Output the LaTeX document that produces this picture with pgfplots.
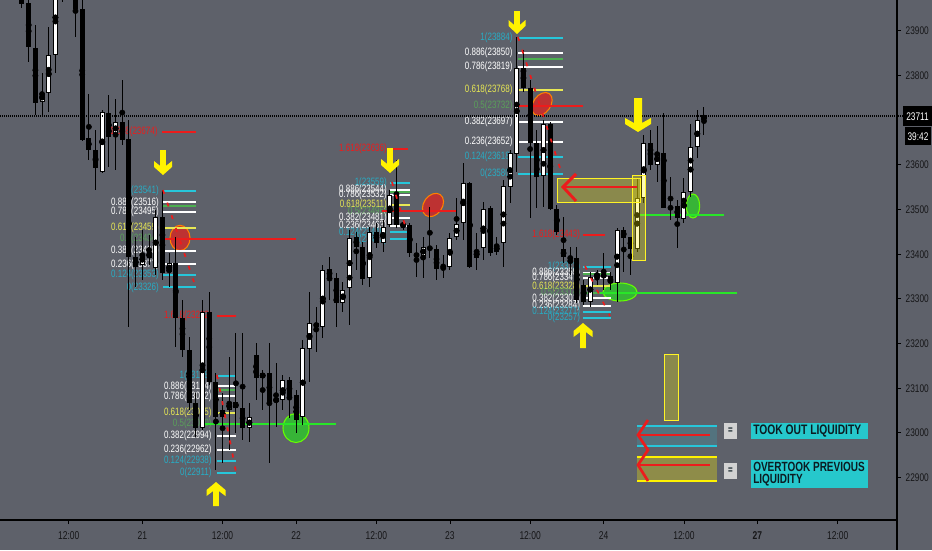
\documentclass[border=0pt]{standalone}
\usepackage{fontspec}
\setmainfont{Liberation Sans}[FakeStretch=0.75]
\usepackage{pgfplots}
\usepackage{pgfplotstable}
\pgfplotsset{compat=1.18}

\definecolor{bg}{RGB}{94,97,106}
\definecolor{tickc}{RGB}{22,22,24}
\definecolor{fibcyan}{RGB}{38,198,218}
\definecolor{fibcyantxt}{RGB}{40,172,196}
\definecolor{fibyel}{RGB}{232,232,84}
\definecolor{fibgrn}{RGB}{76,175,80}
\definecolor{fibgrntxt}{RGB}{90,160,90}
\definecolor{fibred}{RGB}{236,28,28}
\definecolor{limeln}{RGB}{40,230,40}
\definecolor{ylw}{RGB}{255,242,0}
\definecolor{legcyan}{RGB}{38,200,204}
\definecolor{ellred}{RGB}{200,45,45}
\definecolor{ellgrn}{RGB}{55,180,55}
\definecolor{legtxt}{RGB}{12,28,34}

% hourly candles, index i, prices o h l c
\pgfplotstableread{
i o h l c
0 23980 24003 23951 23960
1 23962 23969 23830 23864
2 23861 23913 23711 23738
3 23741 23806 23711 23761
4 23761 23908 23718 23846
5 23846 24036 23806 24014
6 24014 24059 23965 24040
7 24059 24081 24003 24025
8 23991 24003 23886 23949
9 23949 23969 23653 23655
10 23660 23759 23611 23633
11 23633 23678 23544 23593
12 23584 23723 23582 23718
13 23716 23756 23595 23662
14 23667 23747 23588 23696
15 23696 23790 23644 23655
16 23658 23700 23237 23394
17 23394 23438 23326 23371
18 23376 23454 23342 23400
19 23405 23443 23376 23391
20 23369 23499 23353 23483
21 23483 23544 23342 23358
22 23360 23402 23326 23380
23 23380 23438 23192 23257
24 23257 23297 23170 23185
25 23185 23214 23051 23067
26 23067 23089 22991 23011
27 23011 23297 23006 23270
28 23270 23315 23107 23114
29 23114 23134 22917 23035
30 23035 23089 22932 23051
31 23051 23170 22961 23069
32 23069 23223 22999 23055
33 23055 23223 22984 23011
34 23011 23067 22979 23035
35 23174 23201 23073 23123
36 23123 23141 23051 23134
37 23134 23201 22932 23069
38 23069 23156 23013 23078
39 23073 23129 23051 23118
40 23118 23125 23033 23080
41 23085 23096 22999 23029
42 23035 23208 23017 23190
43 23188 23315 23114 23246
44 23246 23282 23181 23237
45 23237 23376 23212 23364
46 23367 23394 23297 23347
47 23347 23358 23237 23291
48 23291 23338 23270 23320
49 23324 23454 23241 23436
50 23438 23449 23364 23416
51 23416 23427 23331 23344
52 23347 23461 23326 23449
53 23449 23470 23414 23425
54 23425 23476 23405 23461
55 23465 23544 23461 23532
56 23532 23611 23458 23465
57 23463 23476 23454 23467
58 23465 23470 23394 23402
59 23402 23425 23349 23394
60 23396 23438 23347 23416
61 23416 23505 23391 23411
62 23411 23420 23342 23367
63 23371 23398 23347 23367
64 23371 23447 23364 23436
65 23438 23526 23432 23467
66 23470 23604 23432 23559
67 23559 23561 23369 23371
68 23391 23447 23364 23409
69 23414 23517 23387 23501
70 23503 23508 23396 23402
71 23405 23438 23398 23420
72 23425 23566 23371 23553
73 23550 23633 23514 23626
74 23624 23886 23584 23817
75 23817 23857 23763 23772
76 23772 23790 23481 23649
77 23649 23678 23503 23573
78 23575 23700 23505 23691
79 23691 23696 23499 23501
80 23501 23510 23443 23449
81 23411 23483 23380 23394
82 23394 23416 23353 23389
83 23391 23416 23291 23297
84 23331 23342 23286 23293
85 23293 23360 23282 23349
86 23351 23364 23331 23355
87 23355 23402 23320 23349
88 23351 23360 23320 23335
89 23335 23458 23293 23454
90 23454 23461 23360 23436
91 23438 23438 23353 23411
92 23411 23570 23405 23526
93 23526 23667 23514 23649
94 23649 23678 23588 23600
95 23600 23687 23561 23626
96 23626 23716 23503 23503
97 23505 23573 23476 23503
98 23508 23521 23414 23481
99 23479 23570 23470 23539
100 23539 23691 23528 23640
101 23640 23723 23615 23700
102 23700 23729 23667 23711
}\candles

\newcommand{\fibf}{\fontsize{8}{8}\selectfont}
% fib level: label end x, line x1, line x2, ratio, price, line colour, text colour
\newcommand{\lev}[7]{%
  \draw[#6, line width=1.5pt] (#2,#5) -- (#3,#5);
  \node[anchor=east, text=#7, font=\fibf, inner sep=0pt] at (#1,#5) {#4(#5)};}
% yellow arrows in pixel coordinates: cx, y1, y2, head half width, shaft half width
\newcommand{\darr}[5]{\fill[ylw] (#1-#5,#2) -- (#1+#5,#2) -- (#1+#5,#3-9) -- (#1+#4,#3-14) -- (#1+#4,#3-8) -- (#1,#3) -- (#1-#4,#3-8) -- (#1-#4,#3-14) -- (#1-#5,#3-9) -- cycle;}
\newcommand{\uarr}[5]{\fill[ylw] (#1-#5,#3) -- (#1+#5,#3) -- (#1+#5,#2+9) -- (#1+#4,#2+14) -- (#1+#4,#2+8) -- (#1,#2) -- (#1-#4,#2+8) -- (#1-#4,#2+14) -- (#1-#5,#2+9) -- cycle;}

\begin{document}
\begin{tikzpicture}
\useasboundingbox (0,0) rectangle (699pt,-412.5pt);
\begin{scope}[x=0.75pt,y=-0.75pt]
  \fill[bg] (0,0) rectangle (932,550);
  % ellipses behind the candles
  \filldraw[fill=ellred, draw=orange, line width=0.8pt, fill opacity=0.9] (180,238) ellipse [x radius=7.5pt, y radius=9.5pt];
  \filldraw[fill=ellred, draw=orange, line width=0.8pt, fill opacity=0.9, rotate around={-35:(433,205)}] (433,205) ellipse [x radius=7pt, y radius=9.5pt];
  \filldraw[fill=ellred, draw=orange, line width=0.8pt, fill opacity=0.9, rotate around={-35:(542,104)}] (542,104) ellipse [x radius=6.5pt, y radius=9.5pt];
  \filldraw[fill=ellgrn, draw=green!60!yellow, line width=0.8pt] (296,428) ellipse [x radius=9.75pt, y radius=10.9pt];
  \filldraw[fill=ellgrn, draw=green!60!yellow, line width=0.8pt] (620,292) ellipse [x radius=12.75pt, y radius=6.75pt];
  \filldraw[fill=ellgrn, draw=green!60!yellow, line width=0.8pt] (693,206) ellipse [x radius=5pt, y radius=9pt];
\end{scope}

\begin{axis}[
  at={(0pt,0pt)}, anchor=north west,
  scale only axis, width=672.75pt, height=390pt,
  xmin=-3.29, xmax=130.87, ymin=22805, ymax=23969,
  axis x line*=bottom, axis y line*=right,
  axis line style={-, black, line width=0.9pt},
  every outer x axis line/.append style={-},
  every outer y axis line/.append style={-},
  xtick={7,18,30,41,53,64,76,87,99,110,122},
  xticklabels={12:00,21,12:00,22,12:00,23,12:00,24,12:00,\textbf{27},12:00},
  ytick={22900,23000,23100,23200,23300,23400,23500,23600,23800,23900},
  scaled y ticks=false,
  tick align=outside, major tick length=3pt,
  tick style={black, line width=0.6pt},
  yticklabel style={font=\fontsize{8.3}{8.3}\selectfont, text=tickc},
  xticklabel style={font=\fontsize{8.5}{8.5}\selectfont, text=tickc, yshift=-2pt},
  /pgf/number format/1000 sep={},
  /pgf/number format/assume math mode=true,
]
% fib block C
\lev{20.5}{21.1}{26.0}{1}{23541}{fibcyan}{fibcyantxt}
\lev{20.5}{21.1}{26.0}{0.886}{23516}{white}{white}
\draw[fibgrn, line width=1.5pt] (21.1,23509) -- (26.0,23509);
\lev{20.5}{21.1}{26.0}{0.786}{23495}{white}{white}
\lev{20.5}{21.1}{26.0}{0.618}{23459}{fibyel}{fibyel}
\lev{20.5}{21.1}{26.0}{0.5}{23434}{fibgrn}{fibgrntxt}
\lev{20.5}{21.1}{26.0}{0.382}{23408}{white}{white}
\lev{20.5}{21.1}{26.0}{0.236}{23377}{white}{white}
\lev{20.5}{21.1}{26.0}{0.124}{23353}{fibcyan}{fibcyantxt}
\lev{20.5}{21.1}{26.0}{0}{23326}{fibcyan}{fibcyantxt}
\lev{20.3}{20.9}{26.0}{1.618}{23674}{fibred}{fibred}
\draw[fibred, line width=1.6pt] (21.4,23434) -- (41.0,23434);
% fib block D
\lev{28.4}{29.2}{32.0}{1}{23128}{fibcyan}{fibcyantxt}
\lev{28.4}{29.2}{32.0}{0.886}{23104}{white}{white}
\draw[fibgrn, line width=1.5pt] (29.2,23095) -- (32.0,23095);
\lev{28.4}{29.2}{32.0}{0.786}{23082}{white}{white}
\lev{28.4}{29.2}{32.0}{0.618}{23045}{fibyel}{fibyel}
\lev{28.4}{29.2}{32.0}{0.5}{23020}{fibgrn}{fibgrntxt}
\lev{28.4}{29.2}{32.0}{0.382}{22994}{white}{white}
\lev{28.4}{29.2}{32.0}{0.236}{22962}{white}{white}
\lev{28.4}{29.2}{32.0}{0.124}{22938}{fibcyan}{fibcyantxt}
\lev{28.4}{29.2}{32.0}{0}{22911}{fibcyan}{fibcyantxt}
\lev{28.4}{29.2}{32.0}{1.618}{23262}{fibred}{fibred}
\draw[limeln, line width=1.5pt] (27.4,23020) -- (47.0,23020);
% fib block B
\lev{54.6}{55.0}{58.0}{1}{23559}{fibcyan}{fibcyantxt}
\lev{54.6}{55.0}{58.0}{0.886}{23544}{white}{white}
\draw[fibgrn, line width=1.5pt] (55.0,23540) -- (58.0,23540);
\lev{54.6}{55.0}{58.0}{0.786}{23532}{white}{white}
\lev{54.6}{55.0}{58.0}{0.618}{23511}{fibyel}{fibyel}
\lev{54.6}{55.0}{58.0}{0.5}{23496}{fibgrn}{fibgrntxt}
\lev{54.6}{55.0}{58.0}{0.382}{23481}{white}{white}
\lev{54.6}{55.0}{58.0}{0.236}{23463}{white}{white}
\lev{54.6}{55.0}{58.0}{0.124}{23449}{fibcyan}{fibcyantxt}
\lev{54.6}{55.0}{58.0}{0}{23433}{fibcyan}{fibcyantxt}
\lev{54.6}{55.0}{57.7}{1.618}{23636}{fibred}{fibred}
\draw[fibred, line width=1.6pt] (53.8,23496) -- (65.1,23496);
% fib block A
\lev{73.4}{74.2}{80.9}{1}{23884}{fibcyan}{fibcyantxt}
\lev{73.4}{74.2}{80.9}{0.886}{23850}{white}{white}
\draw[fibgrn, line width=1.5pt] (74.2,23838) -- (80.9,23838);
\lev{73.4}{74.2}{80.9}{0.786}{23819}{white}{white}
\lev{73.4}{74.2}{80.9}{0.618}{23768}{fibyel}{fibyel}
\lev{73.4}{74.2}{80.9}{0.5}{23732}{fibgrn}{fibgrntxt}
\lev{73.4}{74.2}{80.9}{0.382}{23697}{white}{white}
\lev{73.4}{74.2}{80.9}{0.236}{23652}{white}{white}
\lev{73.4}{74.2}{80.9}{0.124}{23618}{fibcyan}{fibcyantxt}
\lev{73.4}{74.2}{80.9}{0}{23580}{fibcyan}{fibcyantxt}
\draw[fibred, line width=1.6pt] (74.2,23732) -- (83.9,23732);
% fib block E
\lev{83.5}{83.9}{88.1}{1}{23372}{fibcyan}{fibcyantxt}
\lev{83.5}{83.9}{88.1}{0.886}{23359}{white}{white}
\draw[fibgrn, line width=1.5pt] (83.9,23355) -- (88.1,23355);
\lev{83.5}{83.9}{88.1}{0.786}{23347}{white}{white}
\lev{83.5}{83.9}{88.1}{0.618}{23328}{fibyel}{fibyel}
\lev{83.5}{83.9}{88.1}{0.5}{23314}{fibgrn}{fibgrntxt}
\lev{83.5}{83.9}{88.1}{0.382}{23301}{white}{white}
\lev{83.5}{83.9}{88.1}{0.236}{23284}{white}{white}
\lev{83.5}{83.9}{88.1}{0.124}{23271}{fibcyan}{fibcyantxt}
\lev{83.5}{83.9}{88.1}{0}{23257}{fibcyan}{fibcyantxt}
\lev{83.5}{83.9}{87.2}{1.618}{23443}{fibred}{fibred}
\draw[limeln, line width=1.5pt] (86.4,23314) -- (106.9,23314);
\draw[limeln, line width=1.5pt] (92.4,23488) -- (105.0,23488);

% wicks
\addplot[only marks, mark=none,
  error bars/.cd, y dir=both, y explicit, error mark=none,
  error bar style={black, line width=0.75pt}]
  table[x=i, y expr={(\thisrow{h}+\thisrow{l})/2}, y error expr={(\thisrow{h}-\thisrow{l})/2}] {\candles};
% bodies
\addplot[only marks, mark=none,
  error bars/.cd, y dir=both, y explicit, error mark=none,
  error bar style={black, line width=3.75pt}]
  table[x=i, y expr={(\thisrow{o}+\thisrow{c})/2}, y error expr={max(abs(\thisrow{c}-\thisrow{o})/2,1.1)}] {\candles};
% white insides of rising candles
\addplot[only marks, mark=none,
  restrict expr to domain={\thisrow{c}-\thisrow{o}}{0.5:100000},
  error bars/.cd, y dir=both, y explicit, error mark=none,
  error bar style={white, line width=2.25pt}]
  table[x=i, y expr={(\thisrow{o}+\thisrow{c})/2}, y error expr={max(abs(\thisrow{c}-\thisrow{o})/2-2.2,0)}] {\candles};
\end{axis}

\begin{scope}[x=0.75pt,y=-0.75pt]
  % last price line and boxes
  \draw[black, line width=0.8pt, dash pattern=on 0.75pt off 0.75pt] (0,116) -- (903,116);
  \draw[black, line width=0.9pt] (897,518) -- (897,550);
  \fill[black] (903,106) rectangle (932,126);
  \node[text=white, font=\fontsize{8.3}{8.3}\selectfont, inner sep=0pt] at (917.5,116.5) {23711};
  \fill[black] (905,127) rectangle (931,145);
  \node[text=white, font=\fontsize{8.3}{8.3}\selectfont, inner sep=0pt] at (918,136.5) {39:42};
  % liquidity boxes
  \filldraw[fill=ylw, fill opacity=0.28, draw=ylw!85!white, line width=0.75pt] (557,178) rectangle (640,202);
  \filldraw[fill=ylw, fill opacity=0.28, draw=ylw!85!white, line width=0.75pt] (632,175) rectangle (645,260);
  \draw[fibred, line width=2.2pt] (637,187) -- (565,187);
  \draw[fibred, line width=2.2pt] (576,174) -- (563,187) -- (576,201);
  % zigzag dashes
  \begin{scope}[fibred, line width=1.3pt, dash pattern=on 3pt off 7pt]
    \draw (163,190) -- (194,282);
    \draw (217,375) -- (236,472);
    \draw (392,182) -- (407,232);
    \draw (518,37) -- (560,168);
    \draw (585,266) -- (610,316);
  \end{scope}
  % arrows
  \darr{163}{150}{175}{9}{2.8}
  \darr{390}{148}{173}{9}{2.8}
  \darr{517}{11}{34}{8.5}{2.8}
  \darr{638}{98}{132}{13}{4}
  \uarr{216}{482}{506}{9.5}{2.8}
  \uarr{583}{323}{348}{9.5}{2.8}
  % legend
  \filldraw[fill=ylw, fill opacity=0.28, draw=ylw!85!white, line width=0.75pt] (664,354) rectangle (678,420);
  \fill[fibcyan, opacity=0.18] (637,426) rectangle (717,446);
  \draw[fibcyan, line width=1pt] (637,426) -- (717,426) (637,446) -- (717,446);
  \fill[ylw, opacity=0.3] (637,457) rectangle (717,481);
  \draw[ylw, line width=1pt] (637,457) -- (717,457) (637,481) -- (717,481);
  \draw[fibred, line width=2.2pt] (640,435) -- (710,435) (640,465) -- (710,465);
  \draw[fibred, line width=2pt] (648,420) -- (638,435) -- (648,450) -- (638,465) -- (648,481);
  \fill[gray!35] (724,423) rectangle (737,439);
  \node[text=legtxt, font=\bfseries\fontsize{8}{8}\selectfont, inner sep=0pt] at (730.5,431) {=};
  \fill[gray!35] (724,463) rectangle (737,479);
  \node[text=legtxt, font=\bfseries\fontsize{8}{8}\selectfont, inner sep=0pt] at (730.5,471) {=};
  \fill[legcyan] (751,423) rectangle (868,439);
  \node[anchor=west, text=legtxt, font=\bfseries\fontsize{10.3}{10.3}\selectfont, inner sep=0pt] at (753,431) {TOOK OUT LIQUIDITY};
  \fill[legcyan] (751,460) rectangle (868,488);
  \node[anchor=west, align=left, text=legtxt, font=\bfseries\fontsize{10}{9}\selectfont, inner sep=0pt] at (753,474) {OVERTOOK PREVIOUS\\LIQUIDITY};
\end{scope}
\end{tikzpicture}
\end{document}
